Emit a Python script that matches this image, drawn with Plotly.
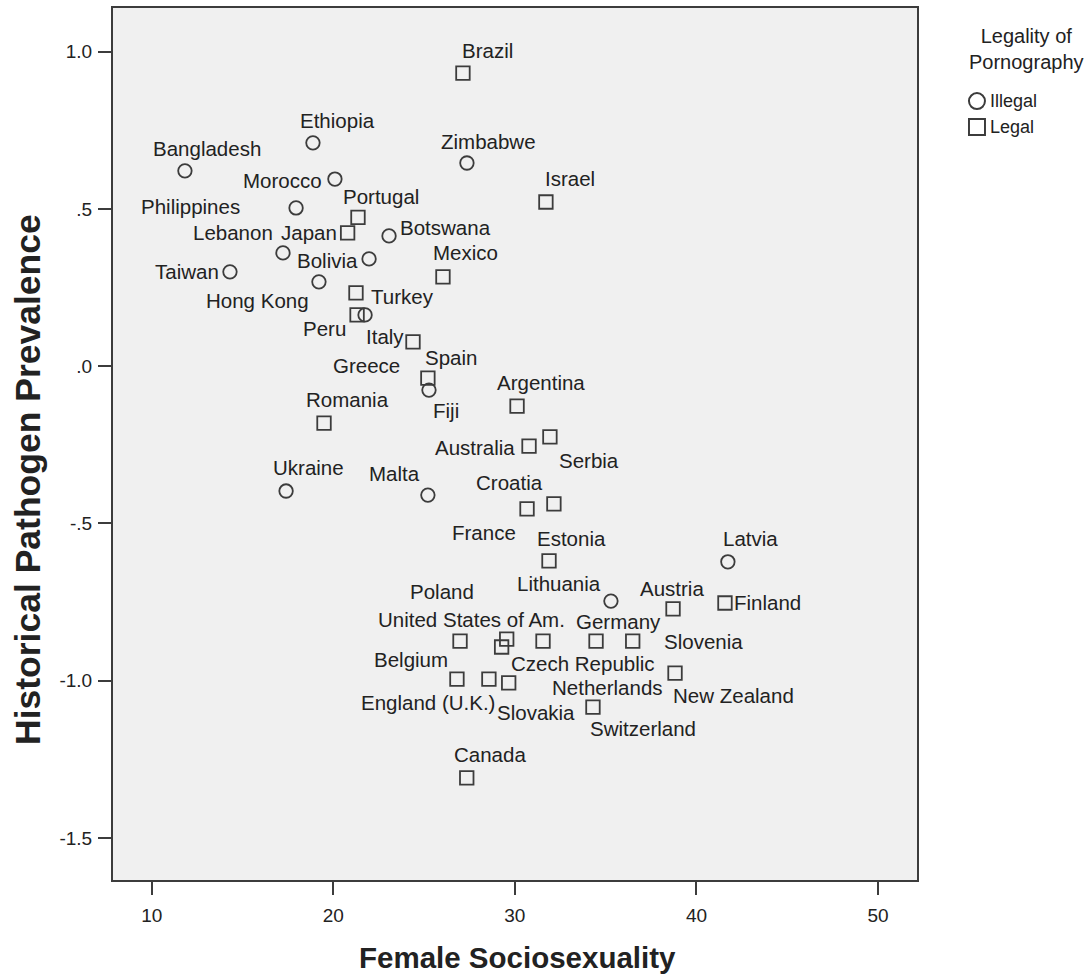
import plotly.graph_objects as go

# ---------------- data ----------------
countries = ["Brazil", "Ethiopia", "Bangladesh", "Zimbabwe", "Morocco", "Israel",
             "Philippines", "Portugal", "Japan", "Botswana", "Lebanon", "Bolivia",
             "Taiwan", "Mexico", "Hong Kong", "Turkey", "Greece", "Peru", "Italy",
             "Spain", "Fiji", "Argentina", "Romania", "Australia", "Serbia",
             "Ukraine", "Malta", "Croatia", "France", "Estonia", "Latvia",
             "Lithuania", "Austria", "Finland", "United States of Am.", "Poland",
             "Netherlands", "Czech Republic", "Germany", "Slovenia", "Belgium",
             "England (U.K.)", "Slovakia", "Switzerland", "New Zealand", "Canada"]

female_sociosexuality = [27.14, 18.88, 11.83, 27.36, 20.09, 31.71,
                         17.95, 21.36, 20.79, 23.07, 17.23, 21.97,
                         14.31, 26.04, 19.21, 21.25, 21.31, 21.75, 24.39,
                         25.21, 25.27, 30.12, 19.49, 30.78, 31.93,
                         17.40, 25.21, 32.15, 30.67, 31.88, 41.73,
                         35.29, 38.71, 41.57, 26.98, 29.55,
                         29.27, 31.55, 34.47, 36.49, 26.81,
                         28.57, 29.66, 34.30, 38.82, 27.35]

pathogen_prevalence = [0.932, 0.710, 0.621, 0.646, 0.595, 0.522,
                       0.503, 0.473, 0.424, 0.414, 0.360, 0.341,
                       0.300, 0.284, 0.268, 0.233, 0.163, 0.163, 0.077,
                       -0.038, -0.076, -0.127, -0.181, -0.254, -0.225,
                       -0.397, -0.410, -0.438, -0.454, -0.619, -0.622,
                       -0.747, -0.772, -0.753, -0.874, -0.868,
                       -0.893, -0.874, -0.874, -0.874, -0.995,
                       -0.995, -1.007, -1.084, -0.976, -1.309]

legality = ["Legal", "Illegal", "Illegal", "Illegal", "Illegal", "Legal",
            "Illegal", "Legal", "Legal", "Illegal", "Illegal", "Illegal",
            "Illegal", "Legal", "Illegal", "Legal", "Legal", "Illegal", "Legal",
            "Legal", "Illegal", "Legal", "Legal", "Legal", "Legal",
            "Illegal", "Illegal", "Legal", "Legal", "Legal", "Illegal",
            "Illegal", "Legal", "Legal", "Legal", "Legal",
            "Legal", "Legal", "Legal", "Legal", "Legal",
            "Legal", "Legal", "Legal", "Legal", "Legal"]

# label offsets (pixels, dx right, dy down) -- layout of the point labels
label_dx = [25, 25, 22, 22, -52, 24, -106, 23, -39, 56, -50, -42, -43, 23, -61, 47,
            9, -41, -28, 23, 17, 24, 23, -54, 39, 22, -33, -44, -43, 22, 23, -52,
            -1, 43, 11, -65, 106, 40, 22, 71, -46, -61, 27, 50, 58, 23]
label_dy = [-23, -22, -22, -21, 1, -23, -1, -21, 0, -8, -20, 2, 0, -24, 19, 4,
            51, 14, -5, -21, 20, -24, -24, 1, 24, -24, -22, -21, 24, -22, -23, -18,
            -20, 0, -22, -48, 40, 22, -20, 0, -20, 23, 30, 21, 22, -23]

x_tickvals = [10, 20, 30, 40, 50]
x_ticktext = ["10", "20", "30", "40", "50"]
y_tickvals = [1.0, 0.5, 0.0, -0.5, -1.0, -1.5]
y_ticktext = ["1.0", ".5", ".0", "-.5", "-1.0", "-1.5"]

categories = ["Illegal", "Legal"]
symbols = {"Illegal": "circle-open", "Legal": "square-open"}

# ---------------- figure ----------------
W, H = 1086, 976
FONT = "Arial, Liberation Sans, sans-serif"
INK = "#222222"
LINE = "#3c3c3c"

fig = go.Figure()

for cat in categories:
    xs = [x for x, l in zip(female_sociosexuality, legality) if l == cat]
    ys = [y for y, l in zip(pathogen_prevalence, legality) if l == cat]
    fig.add_trace(go.Scatter(
        x=xs, y=ys, mode="markers", name=cat, showlegend=False,
        marker=dict(symbol=symbols[cat], size=13.5, color=LINE,
                    line=dict(width=1.8, color=LINE)),
        xaxis="x", yaxis="y", hoverinfo="skip"))

annotations = []
for name, x, y, dx, dy in zip(countries, female_sociosexuality, pathogen_prevalence,
                              label_dx, label_dy):
    annotations.append(dict(x=x, y=y, xref="x", yref="y", text=name,
                            showarrow=False, xanchor="center", yanchor="middle",
                            xshift=dx, yshift=-dy,
                            font=dict(family=FONT, size=20.5, color=INK)))

# axis titles
annotations.append(dict(x=517 / W, y=1 - 957 / H, xref="paper", yref="paper",
                        text="<b>Female Sociosexuality</b>", showarrow=False,
                        xanchor="center", yanchor="middle",
                        font=dict(family=FONT, size=29.5, color=INK)))
annotations.append(dict(x=28 / W, y=1 - 480 / H, xref="paper", yref="paper",
                        text="<b>Historical Pathogen Prevalence</b>", showarrow=False,
                        textangle=-90, xanchor="center", yanchor="middle",
                        font=dict(family=FONT, size=35.5, color=INK)))

# legend (drawn manually in its own small subplot)
annotations.append(dict(x=1026 / W, y=1 - 49 / H, xref="paper", yref="paper",
                        text="Legality of<br>Pornography", showarrow=False,
                        xanchor="center", yanchor="middle", align="center",
                        font=dict(family=FONT, size=20, color=INK)))
leg_y = [0.705, 0.372]
for cat, ly in zip(categories, leg_y):
    fig.add_trace(go.Scatter(
        x=[0.245], y=[ly], mode="markers", showlegend=False,
        marker=dict(symbol=symbols[cat], size=16, color=LINE,
                    line=dict(width=2, color=LINE)),
        xaxis="x2", yaxis="y2", hoverinfo="skip"))
    annotations.append(dict(x=0.245, y=ly, xref="x2", yref="y2", text=cat,
                            showarrow=False, xanchor="left", yanchor="middle",
                            xshift=11, font=dict(family=FONT, size=18, color=INK)))

x_dom = [112 / W, 918 / W]
y_dom = [1 - 881 / H, 1 - 7 / H]

fig.update_layout(
    width=W, height=H,
    margin=dict(l=0, r=0, t=0, b=0),
    paper_bgcolor="white",
    plot_bgcolor="rgba(0,0,0,0)",
    template="none",
    showlegend=False,
    annotations=annotations,
    xaxis=dict(domain=x_dom, range=[7.814, 52.20], tickvals=x_tickvals,
               ticktext=x_ticktext, ticks="outside", ticklen=13, tickwidth=2,
               tickcolor=LINE, showgrid=False, zeroline=False, showline=False,
               automargin=False, ticklabelstandoff=4,
               tickfont=dict(family=FONT, size=19, color=INK)),
    yaxis=dict(domain=y_dom, range=[-1.637, 1.142], tickvals=y_tickvals,
               ticktext=y_ticktext, ticks="outside", ticklen=13, tickwidth=2,
               tickcolor=LINE, showgrid=False, zeroline=False, showline=False,
               automargin=False, ticklabelstandoff=2,
               tickfont=dict(family=FONT, size=19, color=INK)),
    xaxis2=dict(domain=[0.88, 0.96], range=[0, 1], visible=False,
                automargin=False, fixedrange=True, anchor="y2"),
    yaxis2=dict(domain=[0.84, 0.92], range=[0, 1], visible=False,
                automargin=False, fixedrange=True, anchor="x2"),
    shapes=[dict(type="rect", xref="x domain", yref="y domain", x0=0, x1=1,
                 y0=0, y1=1, fillcolor="#f0f0f0", layer="below",
                 line=dict(color=LINE, width=2))],
)

fig.write_html("out.html",
               config={"displayModeBar": False},
               post_script="document.body.style.margin='0';"
                           "document.body.style.padding='0';")
